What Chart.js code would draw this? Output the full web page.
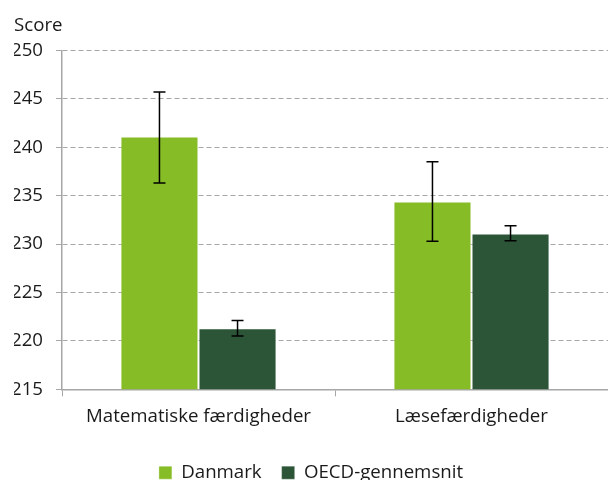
<!DOCTYPE html>
<html>
<head>
<meta charset="utf-8">
<script src="https://cdn.jsdelivr.net/npm/chart.js@4"></script>
<style>
  html, body { margin: 0; padding: 0; background: #fff; }
  #wrap { width: 608px; height: 480px; }
</style>
</head>
<body>
<div id="wrap"><canvas id="scoreChart"></canvas></div>
<script>
const categories = ['Matematiske færdigheder', 'Læsefærdigheder'];

const danmark = [241.1, 234.4];
const danmarkLow = [236.3, 230.3];
const danmarkHigh = [245.7, 238.5];

const oecd = [221.3, 231.1];
const oecdLow = [220.5, 230.35];
const oecdHigh = [222.1, 231.9];

const yTicks = [215, 220, 225, 230, 235, 240, 245, 250];

const gridGray = '#a6a6a6';
const fontFamily = "'Open Sans', 'Noto Sans', sans-serif";
const fontSize = 18.67;

// error bars, drawn through the y scale
const errorBars = {
  id: 'errorBars',
  afterDatasetsDraw(chart) {
    const ctx = chart.ctx;
    const y = chart.scales.y;
    chart.data.datasets.forEach((ds, i) => {
      const meta = chart.getDatasetMeta(i);
      meta.data.forEach((bar, j) => {
        const top = y.getPixelForValue(ds.errHigh[j]);
        const bottom = y.getPixelForValue(ds.errLow[j]);
        ctx.save();
        ctx.strokeStyle = '#000';
        ctx.lineWidth = 1.5;
        ctx.beginPath();
        ctx.moveTo(bar.x, top);
        ctx.lineTo(bar.x, bottom);
        ctx.moveTo(bar.x - 6, top);
        ctx.lineTo(bar.x + 6, top);
        ctx.moveTo(bar.x - 6, bottom);
        ctx.lineTo(bar.x + 6, bottom);
        ctx.stroke();
        ctx.restore();
      });
    });
  }
};

const ctx = document.getElementById('scoreChart');

new Chart(ctx, {
  type: 'bar',
  data: {
    labels: categories,
    datasets: [{
      label: 'Danmark',
      data: danmark,
      errLow: danmarkLow,
      errHigh: danmarkHigh,
      backgroundColor: '#86bc25',
      borderColor: 'rgba(255,255,255,0.35)',
      borderWidth: 1,
      barPercentage: 1,
      categoryPercentage: 0.572
    }, {
      label: 'OECD-gennemsnit',
      data: oecd,
      errLow: oecdLow,
      errHigh: oecdHigh,
      backgroundColor: '#2b5536',
      borderColor: 'rgba(255,255,255,0.25)',
      borderWidth: 1,
      barPercentage: 1,
      categoryPercentage: 0.572
    }]
  },
  options: {
    responsive: true,
    maintainAspectRatio: false,
    animation: false,
    layout: {
      padding: { left: 14, right: 0, top: 0, bottom: -12 }
    },
    plugins: {
      title: {
        display: true,
        text: 'Score',
        align: 'start',
        color: '#1a1a1a',
        font: { family: fontFamily, size: fontSize, weight: 'normal' },
        padding: { top: 14, bottom: 14 }
      },
      legend: {
        position: 'bottom',
        labels: {
          boxWidth: 13,
          boxHeight: 13,
          padding: 20,
          color: '#1a1a1a',
          font: { family: fontFamily, size: fontSize }
        }
      },
      tooltip: { enabled: false }
    },
    scales: {
      x: {
        afterFit(scale) { scale.height = 54; },
        grid: {
          drawOnChartArea: false,
          drawTicks: true,
          tickLength: 7,
          color: gridGray
        },
        border: { color: gridGray, width: 1.5 },
        ticks: {
          padding: 9,
          color: '#1a1a1a',
          font: { family: fontFamily, size: fontSize }
        }
      },
      y: {
        min: 215,
        max: 250,
        afterFit(scale) { scale.width = 48; },
        afterBuildTicks(scale) { scale.ticks = yTicks.map(v => ({ value: v })); },
        grid: {
          color: gridGray,
          tickLength: 6,
          tickBorderDash: []
        },
        border: { color: gridGray, width: 1.5, dash: [5, 3] },
        ticks: {
          padding: 13,
          color: '#1a1a1a',
          font: { family: fontFamily, size: fontSize }
        }
      }
    }
  },
  plugins: [errorBars]
});
</script>
</body>
</html>
